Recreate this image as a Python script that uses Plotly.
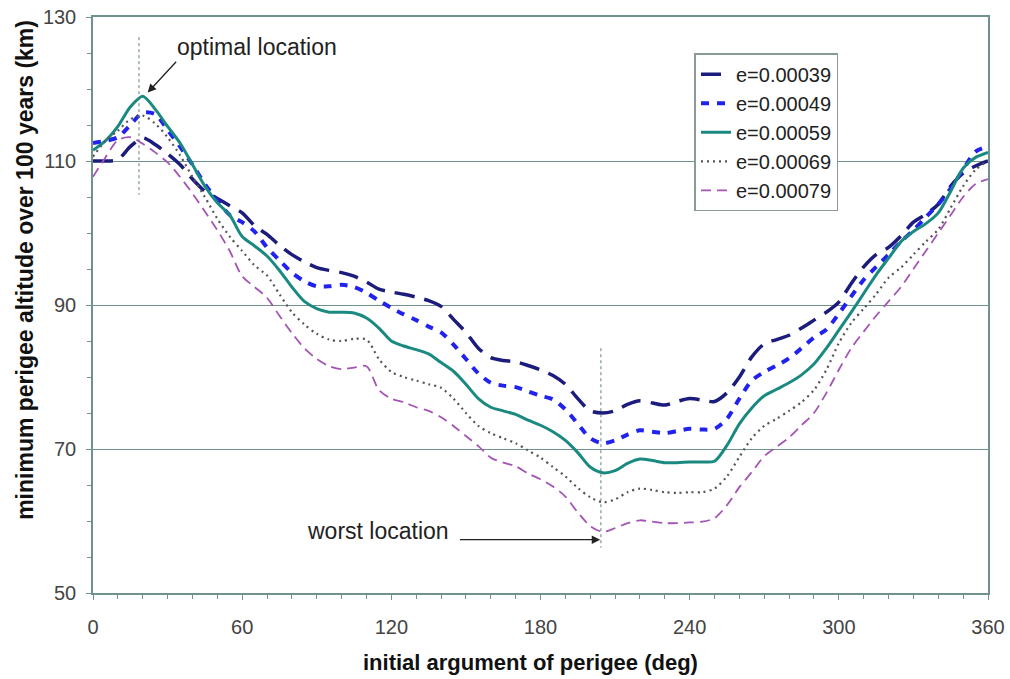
import plotly.graph_objects as go

deg = list(range(0, 361, 5))

e039 = [110, 110, 110.2, 112, 113.2, 112.3, 111, 109.5, 107.5, 105.8, 104.8, 103.8, 102.8, 101, 99.8, 98.3,
        97, 96, 95.2, 94.8, 94.5, 94, 93.2, 92.2, 91.8, 91.5, 91.1, 90.6, 89.8, 88, 86.2, 84, 82.7, 82.3,
        82.1, 81.6, 81, 80.2, 79, 77, 75.3, 75, 75.3, 76.2, 76.7, 76.4, 76.1, 76.6, 77, 76.8, 76.6, 77.8,
        80, 82.8, 84.6, 85.2, 85.8, 86.8, 87.9, 89, 90.4, 93, 95.3, 97, 98, 99.6, 101.5, 102.6, 104, 106.5,
        108.3, 109.3, 110]
e049 = [112.5, 112.8, 113.3, 115, 116.7, 116.5, 114.3, 112, 109.5, 106.8, 104.5, 102.5, 101.5, 100.2, 98,
        96.2, 94.5, 93.3, 92.6, 92.6, 92.8, 92.5, 91.7, 90.6, 89.6, 88.7, 87.9, 87, 86.2, 84.5, 82.5, 80.5,
        79.2, 78.8, 78.6, 78, 77.4, 76.9, 75.5, 73.5, 71.5, 70.8, 71.2, 72, 72.6, 72.4, 72.2, 72.5, 72.8,
        72.7, 72.8, 74.2, 77, 79.5, 80.7, 81.6, 82.6, 84, 85.5, 86.6, 88.8, 91.2, 93.5, 95.3, 97, 98.8,
        100.4, 102.2, 104, 106.2, 108.8, 111.3, 112]
e059 = [111.5, 112.8, 114.8, 117.5, 119, 117.2, 114.8, 112.5, 109.5, 106.5, 104.2, 102.5, 99.5, 98.2, 96.8,
        94.8, 92.5, 90.5, 89.5, 89, 89, 88.9, 88.2, 86.8, 85, 84.3, 83.8, 83.2, 82, 80.8, 79, 77, 75.8,
        75.3, 74.8, 74, 73.3, 72.4, 71.2, 69.5, 67.5, 66.7, 67, 68, 68.6, 68.4, 68.1, 68.1, 68.2, 68.2,
        68.3, 70.5, 73.5, 75.7, 77.4, 78.3, 79.2, 80.3, 81.8, 84, 86.5, 89, 91.6, 94.2, 96.5, 98.8, 100.2,
        101.3, 102.8, 105.8, 109, 110.5, 111.2]
e069 = [110.6, 112.8, 114.2, 115.8, 116.3, 115.2, 113.3, 110.8, 107.8, 105, 102, 99.5, 97.5, 95.5, 94.1,
        91.5, 89, 87.3, 86, 85.2, 85, 85.3, 85.2, 82.5, 80.7, 80, 79.5, 79, 78.5, 77, 75, 73.2, 72.2, 71.5,
        70.8, 69.8, 68.8, 67.5, 66.2, 64.6, 63.3, 62.6, 63, 64, 64.5, 64.3, 64, 63.9, 64, 64, 64.5, 66.2,
        68.9, 71.5, 73.2, 74.2, 75.3, 76.5, 78.2, 81, 84.7, 87.5, 89.5, 91.5, 93.8, 95.2, 97, 98.8, 100.5,
        103.5, 106.5, 108.8, 110]
e079 = [107.8, 110.5, 112.9, 113.3, 112.4, 111.2, 109.8, 107.8, 105.5, 103, 100.4, 97.5, 94, 92.5, 91,
        88.5, 86.1, 84, 82.5, 81.5, 81.1, 81.3, 81.5, 78.2, 77, 76.5, 75.8, 75.3, 74.4, 73.2, 71.8, 70.4,
        68.8, 68.1, 67.6, 66.6, 65.8, 64.8, 63.4, 61.2, 59.3, 58.5, 59, 59.7, 60.1, 59.9, 59.7, 59.7, 59.8,
        59.9, 60.4, 62.2, 64.7, 66.8, 69, 70.3, 71.6, 73.3, 75, 77.8, 81, 84, 86.3, 88.5, 90.5, 92.5, 95,
        97.5, 100, 102.5, 105, 106.8, 107.5]

names = ["e=0.00039", "e=0.00049", "e=0.00059", "e=0.00069", "e=0.00079"]
series = [e039, e049, e059, e069, e079]
x_ticks = [0, 60, 120, 180, 240, 300, 360]
y_ticks = [50, 70, 90, 110, 130]

styles = [
    dict(color="#1c1c7c", width=3.5, dash="20px,10px"),
    dict(color="#2222ee", width=4, dash="8px,8px"),
    dict(color="#1a8a80", width=3, dash="solid"),
    dict(color="#555555", width=2.2, dash="2px,4px"),
    dict(color="#a455b4", width=1.8, dash="10px,6px"),
]

FONT = "Liberation Sans, Arial, sans-serif"
AX = "#6f928e"

fig = go.Figure()
for n, s, st in zip(names, series, styles):
    fig.add_trace(go.Scatter(x=deg, y=s, name=n, mode="lines",
                             line=dict(shape="spline", smoothing=0.8, **st)))

# marker lines
fig.add_trace(go.Scatter(x=[18.5, 18.5], y=[127.2, 105.3], mode="lines", showlegend=False,
                         line=dict(color="#5f7f7c", width=1, dash="3px,3px"), hoverinfo="skip"))
fig.add_trace(go.Scatter(x=[204.3, 204.3], y=[84, 56.3], mode="lines", showlegend=False,
                         line=dict(color="#5f7f7c", width=1, dash="3px,3px"), hoverinfo="skip"))

fig.add_annotation(x=66, y=125.9, text="optimal location", showarrow=False,
                   font=dict(family=FONT, size=23, color="#222"))
fig.add_annotation(x=22, y=119.5, ax=34, ay=124, xref="x", yref="y", axref="x", ayref="y",
                   showarrow=True, arrowhead=2, arrowsize=1.3, arrowwidth=1.3, arrowcolor="#222", text="")
fig.add_annotation(x=114.5, y=58.6, text="worst location", showarrow=False,
                   font=dict(family=FONT, size=23, color="#222"))
fig.add_annotation(x=204, y=57.4, ax=147, ay=57.4, xref="x", yref="y", axref="x", ayref="y",
                   showarrow=True, arrowhead=2, arrowsize=1.3, arrowwidth=1.3, arrowcolor="#222", text="")

# axis titles
fig.add_annotation(xref="paper", yref="paper", x=0.489, y=-0.1215, xanchor="center", yanchor="middle",
                   showarrow=False, text="<b>initial argument of perigee (deg)</b>",
                   font=dict(family=FONT, size=22, color="#111"))
fig.add_annotation(xref="paper", yref="paper", x=-0.076, y=0.561, xanchor="center", yanchor="middle",
                   showarrow=False, textangle=-90,
                   text="<b>minimum perigee altitude over 100 years (km)</b>",
                   font=dict(family=FONT, size=23, color="#111"))

fig.update_layout(
    width=1010, height=679,
    margin=dict(l=93, r=22, t=17, b=86),
    paper_bgcolor="white", plot_bgcolor="white",
    font=dict(family=FONT, size=20, color="#444"),
    showlegend=True,
    legend=dict(x=0.7525, y=0.937, xanchor="center", yanchor="top",
                bgcolor="white", bordercolor="#8a9a98", borderwidth=1.5,
                font=dict(family=FONT, size=20, color="#222"), tracegroupgap=0),
)
fig.update_xaxes(range=[0, 360], tickvals=x_ticks, ticktext=[str(v) for v in x_ticks],
                 automargin=False, showgrid=False, zeroline=False, showline=True, linecolor=AX,
                 linewidth=1.5, mirror=True, ticks="outside", tickcolor=AX, ticklen=5,
                 ticklabelstandoff=10,
                 tickfont=dict(family=FONT, size=20, color="#444"),
                 minor=dict(dtick=10, ticks="outside", ticklen=4, tickcolor=AX))
fig.update_yaxes(range=[50, 130], tickvals=y_ticks, ticktext=[str(v) for v in y_ticks],
                 automargin=False, showgrid=True, gridcolor=AX, gridwidth=1.2, zeroline=False,
                 showline=True, linecolor=AX, linewidth=1.5, mirror=True,
                 ticks="outside", tickcolor=AX, ticklen=5, ticklabelstandoff=6,
                 tickfont=dict(family=FONT, size=20, color="#444"),
                 minor=dict(dtick=5, ticks="outside", ticklen=4, tickcolor=AX, showgrid=False))

fig.write_html("out.html", config={"displayModeBar": False})

# remove the browser's default body margin so the figure sits at the page origin
with open("out.html", "r", encoding="utf-8") as f:
    html = f.read()
html = html.replace("<body>", '<body style="margin:0;padding:0;overflow:hidden">', 1)
with open("out.html", "w", encoding="utf-8") as f:
    f.write(html)
